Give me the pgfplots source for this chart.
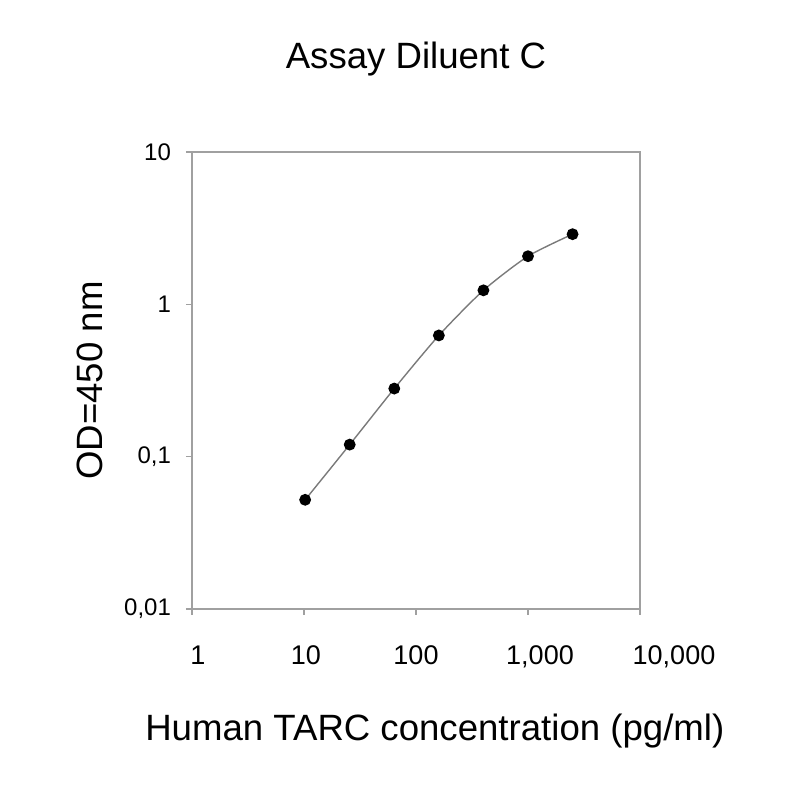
\documentclass[border=0pt]{standalone}
\usepackage{fontspec}
\setmainfont{Liberation Sans}
\usepackage{pgfplots}
\pgfplotsset{compat=1.18}

\definecolor{axisgray}{HTML}{A0A0A0}
\definecolor{linegray}{HTML}{7A7A7A}

\begin{document}
\begin{tikzpicture}
% page = 800 px, 1 px = 0.5 pt
\path[use as bounding box] (0,0) rectangle (400pt,400pt);
\begin{axis}[
    at={(96pt,95.5pt)}, anchor=south west,
    scale only axis,
    width=224pt, height=228.5pt,
    xmode=log, ymode=log,
    xmin=1, xmax=10000,
    ymin=0.01, ymax=10,
    axis line style={axisgray, line width=1.1pt},
    tick style={axisgray, line width=0.8pt},
    minor tick style={draw=none},
    tick align=outside,
    major tick length=3pt,
    xtick={1,10,100,1000,10000},
    xticklabels={{\hspace*{6pt}1},{\hspace*{2pt}10},{100},{\hspace*{12pt}1,000},{\hspace*{34pt}10,000}},
    ytick={0.01,0.1,1,10},
    yticklabels={{0,01},{0,1},{1},{10}},
    xticklabel style={font=\fontsize{13.5}{14}\selectfont, yshift=-12pt},
    yticklabel style={font=\fontsize{12}{13}\selectfont, xshift=-4pt},
    xtick pos=bottom, ytick pos=left,
    title={Assay Diluent C},
    title style={font=\fontsize{18.3}{20}\selectfont, at={(axis description cs:0.5,1.1575)}, anchor=base},
    xlabel={Human TARC concentration (pg/ml)},
    xlabel style={font=\fontsize{18.3}{20}\selectfont, at={(axis description cs:0.542,-0.2867)}, anchor=base},
    ylabel={OD=450 nm},
    ylabel style={font=\fontsize{18.3}{20}\selectfont, at={(axis description cs:-0.2277,0.5)}, anchor=center},
    clip=false,
]
\addplot[linegray, line width=0.7pt, smooth, tension=0.4,
    mark=*, mark size=2.6pt, mark options={fill=black, draw=black, solid}]
    coordinates {
    (10.24,0.0521) (25.6,0.120) (64,0.280) (160,0.625)
    (400,1.236) (1000,2.07) (2500,2.888)
    };
\end{axis}
\end{tikzpicture}
\end{document}
